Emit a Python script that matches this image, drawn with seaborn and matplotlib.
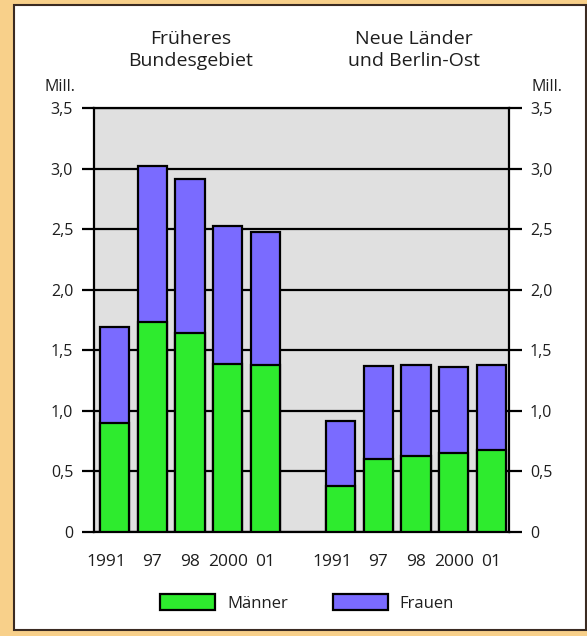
import matplotlib
matplotlib.use("Agg")
import matplotlib.pyplot as plt
import matplotlib.transforms as mtransforms
import seaborn as sns
import pandas as pd
from matplotlib.patches import Rectangle, Patch

# ---- data ----
years = ["1991", "97", "98", "2000", "01"]
regions = ["Früheres\nBundesgebiet", "Neue Länder\nund Berlin-Ost"]
maenner_west = [0.90, 1.73, 1.64, 1.39, 1.38]
frauen_west = [0.79, 1.29, 1.27, 1.14, 1.10]
maenner_ost = [0.38, 0.60, 0.63, 0.655, 0.68]
frauen_ost = [0.54, 0.77, 0.745, 0.705, 0.695]
y_ticks = [0, 0.5, 1.0, 1.5, 2.0, 2.5, 3.0, 3.5]
y_ticklabels = ["0", "0,5", "1,0", "1,5", "2,0", "2,5", "3,0", "3,5"]
legend_labels = ["Männer", "Frauen"]

GREEN = "#2EEB2E"
PURPLE = "#7A6BFF"
TXT = "#1e1e1e"

sns.set_theme(style="white")
plt.rcParams["font.family"] = ["Open Sans", "DejaVu Sans"]

# categories: west years, an empty spacer slot, east years
west_keys = [f"W{y}" for y in years]
east_keys = [f"O{y}" for y in years]
order = west_keys + [" "] + east_keys
keys = west_keys + east_keys
men = maenner_west + maenner_ost
women = frauen_west + frauen_ost
df = pd.DataFrame({
    "key": keys,
    "men": men,
    "total": [m + w for m, w in zip(men, women)],
})

fig = plt.figure(figsize=(5.87, 6.36), dpi=100)
fig.patch.set_facecolor("#F8D08A")
fig.patches.append(Rectangle((14 / 587, 1 - 630 / 636), (586 - 14) / 587, (630 - 5) / 636,
                             transform=fig.transFigure, facecolor="white",
                             edgecolor="#3b2b22", linewidth=1.5, zorder=-10))

ax = fig.add_axes([94 / 587, 1 - 532 / 636, (509 - 94) / 587, (532 - 108) / 636])
ax.set_zorder(2)
ax.set_facecolor("#E0E0E0")

sns.barplot(data=df, x="key", y="total", order=order, color=PURPLE, width=0.78,
            edgecolor="black", linewidth=1.6, saturation=1, ax=ax, zorder=3)
sns.barplot(data=df, x="key", y="men", order=order, color=GREEN, width=0.78,
            edgecolor="black", linewidth=1.6, saturation=1, ax=ax, zorder=4)

ax.set_xlim(-0.55, 10.47)
ax.set_ylim(0, 3.5)
ax.set_xlabel("")
ax.set_ylabel("")

ax.set_yticks(y_ticks)
ax.set_yticklabels(y_ticklabels)
ax.set_xticks(range(len(order)))
ax.set_xticklabels(years + [""] + years)

ax.set_axisbelow(True)
ax.yaxis.grid(True, color="black", linewidth=1.6, zorder=1)
ax.xaxis.grid(False)
for s in ax.spines.values():
    s.set_color("black")
    s.set_linewidth(1.6)

ax.tick_params(axis="y", which="both", left=True, right=True, labelleft=True,
               labelright=True, length=9, width=1.6, color="black", pad=6,
               labelsize=11.5, labelcolor=TXT)
ax.tick_params(axis="x", length=0, pad=16, labelsize=12.5, labelcolor=TXT)

# the "1991" labels sit a little left of their bars
for i, lab in enumerate(ax.get_xticklabels()):
    if lab.get_text() == "1991":
        lab.set_transform(lab.get_transform() +
                          mtransforms.ScaledTranslation(-8 / 100, 0, fig.dpi_scale_trans))

# headers
fig.text(191 / 587, 1 - 50 / 636, regions[0], ha="center", va="center",
         fontsize=14, color=TXT, linespacing=1.3)
fig.text(414 / 587, 1 - 50 / 636, regions[1], ha="center", va="center",
         fontsize=14, color=TXT, linespacing=1.3)
fig.text(45 / 587, 1 - 87 / 636, "Mill.", ha="left", va="center", fontsize=11.5, color=TXT)
fig.text(562 / 587, 1 - 87 / 636, "Mill.", ha="right", va="center", fontsize=11.5, color=TXT)

handles = [Patch(facecolor=GREEN, edgecolor="black", linewidth=1.6),
           Patch(facecolor=PURPLE, edgecolor="black", linewidth=1.6)]
fig.legend(handles, legend_labels, loc="center", bbox_to_anchor=(307 / 587, 1 - 603 / 636),
           ncol=2, frameon=False, fontsize=12, handlelength=3.3, handleheight=1.1,
           columnspacing=2.7, handletextpad=0.7, labelcolor=TXT)

fig.savefig("out.png", dpi=100, facecolor=fig.get_facecolor())
